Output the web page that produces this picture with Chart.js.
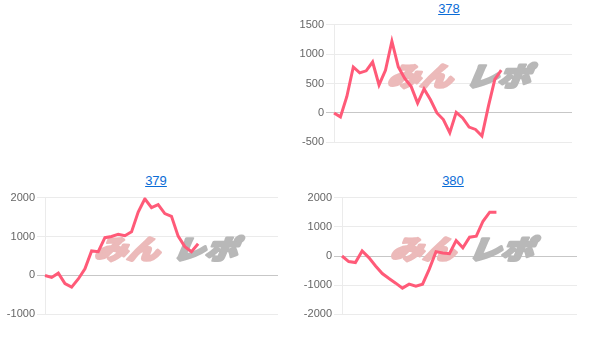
<!DOCTYPE html>
<html>
<head>
<meta charset="utf-8">
<script src="https://cdn.jsdelivr.net/npm/chart.js@4.4.0/dist/chart.umd.min.js"></script>
<style>
  body { margin: 0; background: #fff; width: 605px; height: 340px; position: relative; overflow: hidden; font-family: Arial, "Liberation Sans", sans-serif; }
  .ttl { position: absolute; width: 100px; margin-left: -50px; text-align: center; font-size: 13px; line-height: 14px; }
  .ttl a { color: #0a6cd6; text-decoration: underline; }
  canvas { position: absolute; }
</style>
</head>
<body>

<div class="ttl" style="left:449px; top:2px;"><a href="#">378</a></div>
<canvas id="c378" style="left:300px; top:16px;" width="272" height="135"></canvas>

<div class="ttl" style="left:156px; top:174px;"><a href="#">379</a></div>
<canvas id="c379" style="left:0px; top:189px;" width="278" height="134"></canvas>

<div class="ttl" style="left:453px; top:174px;"><a href="#">380</a></div>
<canvas id="c380" style="left:300px; top:189px;" width="277" height="134"></canvas>

<script>
// values
const data378 = [0, -67, 280, 780, 680, 715, 865, 475, 725, 1218, 780, 587, 447, 168, 408, 223, 0, -112, -335, 11, -84, -240, -280, -391, 112, 570, 726];
const data379 = [0, -50, 60, -210, -300, -90, 170, 630, 610, 970, 1000, 1060, 1020, 1120, 1630, 1970, 1740, 1820, 1590, 1520, 1010, 740, 610, 815];
const data380 = [0, -190, -225, 170, -55, -340, -600, -770, -930, -1100, -965, -1030, -965, -450, 150, 100, 80, 530, 280, 645, 680, 1190, 1500, 1500];

const ticks378 = [-500, 0, 500, 1000, 1500];
const ticks379 = [-1000, 0, 1000, 2000];
const ticks380 = [-2000, -1000, 0, 1000, 2000];

// number of slots on the x axis (more than the data)
const slots378 = 38;
const slots379 = 36;
const slots380 = 36;

// watermark drawn behind the line
const watermark = {
  id: 'watermark',
  beforeDatasetsDraw(chart, args, opts) {
    const ctx = chart.ctx;
    ctx.save();
    ctx.translate(opts.x, opts.y);
    ctx.scale(1.08, 0.88);
    ctx.transform(1, 0, -0.35, 1, 0, 0);
    ctx.font = '900 30px "Noto Sans CJK JP"';
    ctx.textBaseline = 'middle';
    ctx.lineJoin = 'round';
    ctx.lineWidth = 3;
    ctx.fillStyle = ctx.strokeStyle = 'rgb(236,186,186)';
    ctx.strokeText('みん', -68, 1);
    ctx.fillText('みん', -68, 1);
    ctx.fillStyle = ctx.strokeStyle = 'rgb(184,184,184)';
    ctx.strokeText('レポ', 4, 1);
    ctx.fillText('レポ', 4, 1);
    ctx.restore();
  }
};

function makeChart(id, values, tickVals, slots, axisW, wm) {
  const labels = [];
  for (let i = 0; i < slots; i++) labels.push(i + 1);
  const ctx = document.getElementById(id).getContext('2d');
  return new Chart(ctx, {
    type: 'line',
    data: {
      labels: labels,
      datasets: [{
        data: values,
        borderColor: 'rgb(255, 90, 120)',
        borderWidth: 3,
        pointRadius: 0,
        tension: 0,
        fill: false
      }]
    },
    options: {
      responsive: false,
      animation: false,
      layout: { padding: { top: 8, bottom: 8, left: 0, right: 0 } },
      plugins: {
        legend: { display: false },
        tooltip: { enabled: false },
        watermark: wm
      },
      scales: {
        x: { display: false },
        y: {
          min: tickVals[0],
          max: tickVals[tickVals.length - 1],
          afterFit: function(axis) { axis.width = axisW; },
          afterBuildTicks: function(axis) { axis.ticks = tickVals.map(v => ({ value: v })); },
          ticks: {
            color: '#666',
            padding: 2,
            font: { size: 11, family: 'Arial' },
            callback: v => String(v)
          },
          grid: {
            color: c => c.tick && c.tick.value === 0 ? 'rgba(0,0,0,0.22)' : 'rgba(0,0,0,0.08)',
            tickLength: 8
          },
          border: { color: 'rgba(0,0,0,0.08)' }
        }
      }
    },
    plugins: [watermark]
  });
}

makeChart('c378', data378, ticks378, slots378, 34, { x: 165, y: 59 });
makeChart('c379', data379, ticks379, slots379, 45, { x: 172, y: 59 });
makeChart('c380', data380, ticks380, slots380, 42, { x: 168, y: 59 });
</script>
</body>
</html>
